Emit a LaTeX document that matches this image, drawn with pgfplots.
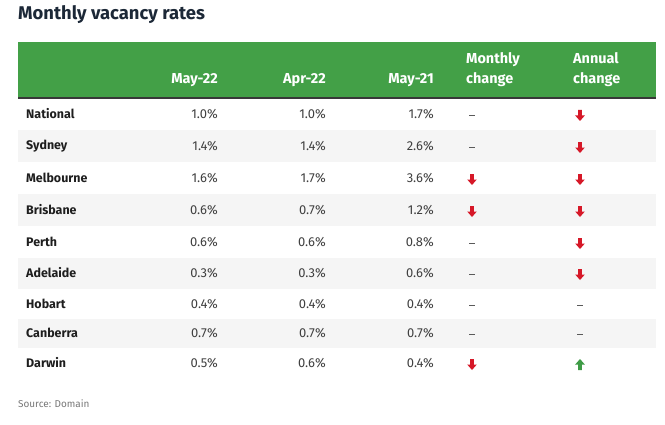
\documentclass[border=0pt]{standalone}
\usepackage{fontspec}
\setmainfont{Fira Sans}
\usepackage{pgfplots}
\pgfplotsset{compat=1.18}
\usepackage{pgfplotstable}
\definecolor{hdrgreen}{RGB}{67,160,71}
\definecolor{arrred}{RGB}{214,24,40}
\definecolor{arrgreen}{RGB}{62,155,70}
\definecolor{rowgray}{RGB}{245,245,245}
\definecolor{titlecol}{RGB}{28,40,55}
\definecolor{namecol}{RGB}{30,30,30}
\definecolor{valcol}{RGB}{64,64,64}
\definecolor{dashcol}{RGB}{90,90,90}
\definecolor{srccol}{RGB}{120,120,120}
\pgfdeclareplotmark{darr}{%
 \pgfpathmoveto{\pgfqpoint{-1.9bp}{5.5bp}}%
 \pgfpathlineto{\pgfqpoint{1.9bp}{5.5bp}}%
 \pgfpathlineto{\pgfqpoint{1.9bp}{0bp}}%
 \pgfpathlineto{\pgfqpoint{4.8bp}{0bp}}%
 \pgfpathlineto{\pgfqpoint{0bp}{-5.5bp}}%
 \pgfpathlineto{\pgfqpoint{-4.8bp}{0bp}}%
 \pgfpathlineto{\pgfqpoint{-1.9bp}{0bp}}%
 \pgfpathclose\pgfusepathqfill}
\pgfdeclareplotmark{uarr}{%
 \pgfpathmoveto{\pgfqpoint{-1.9bp}{-5.5bp}}%
 \pgfpathlineto{\pgfqpoint{1.9bp}{-5.5bp}}%
 \pgfpathlineto{\pgfqpoint{1.9bp}{0bp}}%
 \pgfpathlineto{\pgfqpoint{4.8bp}{0bp}}%
 \pgfpathlineto{\pgfqpoint{0bp}{5.5bp}}%
 \pgfpathlineto{\pgfqpoint{-4.8bp}{0bp}}%
 \pgfpathlineto{\pgfqpoint{-1.9bp}{0bp}}%
 \pgfpathclose\pgfusepathqfill}
\pgfdeclareplotmark{dash}{%
 \pgfpathrectangle{\pgfqpoint{-3bp}{-0.6bp}}{\pgfqpoint{6bp}{1.2bp}}%
 \pgfusepathqfill}
\pgfplotstableread{
y name may22 apr22 may21 m a
114 National 1.0 1.0 1.7 n d
146 Sydney 1.4 1.4 2.6 n d
178 Melbourne 1.6 1.7 3.6 d d
210 Brisbane 0.6 0.7 1.2 d d
242 Perth 0.6 0.6 0.8 n d
273 Adelaide 0.3 0.3 0.6 n d
304 Hobart 0.4 0.4 0.4 n n
333 Canberra 0.7 0.7 0.7 n n
363 Darwin 0.5 0.6 0.4 d u
}\data
\newcommand\rowfont{\fontsize{12.5}{15}\selectfont}
\newcommand\valfont{\fontsize{13}{15}\selectfont}
\newcommand\hdrfont{\fontsize{14.5}{17}\selectfont\bfseries}
\begin{document}
\begin{tikzpicture}
\begin{axis}[
  width=665bp, height=425bp, scale only axis,
  xmin=0, xmax=665, ymin=0, ymax=425, y dir=reverse,
  hide axis, clip=false,
  valnode/.style={only marks, mark=none,
    nodes near coords={\pgfmathprintnumber[fixed,fixed zerofill,precision=1,assume math mode=true]{\pgfplotspointmeta}\%},
    nodes near coords style={anchor=east, inner sep=0pt, font=\valfont, text=valcol}},
  chg/.style={scatter, only marks, scatter src=explicit symbolic,
    scatter/classes={d={mark=darr,arrred}, n={mark=dash,dashcol}, u={mark=uarr,arrgreen}}},
]
\fill[white] (axis cs:0,0) rectangle (axis cs:665,425);
% title
\node[anchor=base west, inner sep=0pt, text=titlecol, font=\fontsize{18.5}{21}\selectfont\bfseries] at (axis cs:18,20) {Monthly vacancy rates};
% header
\fill[hdrgreen] (axis cs:18,42) rectangle (axis cs:656,97);
\fill[black!78] (axis cs:18,97) rectangle (axis cs:656,99);
\node[anchor=base east, inner sep=0pt, text=white, font=\hdrfont] at (axis cs:218,84) {May-22};
\node[anchor=base east, inner sep=0pt, text=white, font=\hdrfont] at (axis cs:326,84) {Apr-22};
\node[anchor=base east, inner sep=0pt, text=white, font=\hdrfont] at (axis cs:434,84) {May-21};
\node[anchor=base west, inner sep=0pt, text=white, font=\hdrfont] at (axis cs:466,64) {Monthly};
\node[anchor=base west, inner sep=0pt, text=white, font=\hdrfont] at (axis cs:466,84) {change};
\node[anchor=base west, inner sep=0pt, text=white, font=\hdrfont] at (axis cs:573,64) {Annual};
\node[anchor=base west, inner sep=0pt, text=white, font=\hdrfont] at (axis cs:573,84) {change};
% shaded rows
\fill[rowgray] (axis cs:18,130) rectangle (axis cs:656,162);
\fill[rowgray] (axis cs:18,194) rectangle (axis cs:656,226);
\fill[rowgray] (axis cs:18,258) rectangle (axis cs:656,289);
\fill[rowgray] (axis cs:18,319) rectangle (axis cs:656,348);
% names
\addplot[only marks, mark=none, point meta=explicit symbolic,
  nodes near coords, nodes near coords style={anchor=west, inner sep=0pt, font=\rowfont\bfseries, text=namecol}]
  table[x expr=26, y=y, meta=name]{\data};
% values
\addplot[valnode, point meta=\thisrow{may22}] table[x expr=218, y=y]{\data};
\addplot[valnode, point meta=\thisrow{apr22}] table[x expr=326, y=y]{\data};
\addplot[valnode, point meta=\thisrow{may21}] table[x expr=434, y=y]{\data};
% change markers
\addplot[chg] table[x expr=472, y expr=\thisrow{y}+1.5, meta=m]{\data};
\addplot[chg] table[x expr=580, y expr=\thisrow{y}+1.5, meta=a]{\data};
% source
\node[anchor=base west, inner sep=0pt, text=srccol, font=\fontsize{10}{12}\selectfont] at (axis cs:18,407) {Source: Domain};
\end{axis}
\end{tikzpicture}
\end{document}
